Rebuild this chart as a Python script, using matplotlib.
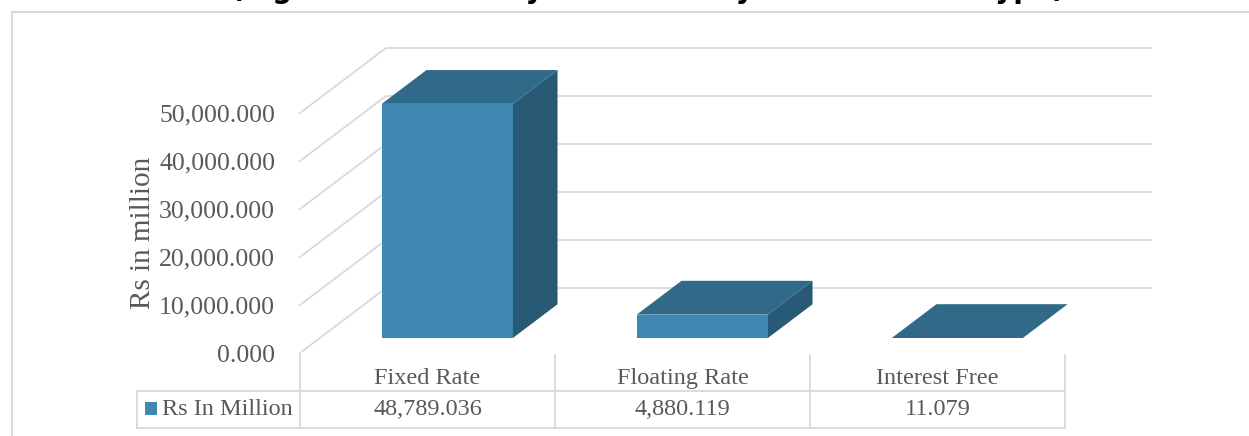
import matplotlib
matplotlib.use('Agg')
import matplotlib.pyplot as plt
from matplotlib.patches import Polygon, Rectangle
from matplotlib.lines import Line2D
from matplotlib.transforms import IdentityTransform, blended_transform_factory

# 数据
categories = ['Fixed Rate', 'Floating Rate', 'Interest Free']
values = [48789.036, 4880.119, 11.079]
value_labels = ['48,789.036', '4,880.119', '11.079']
series_name = 'Rs In Million'
yticks = [0, 10000, 20000, 30000, 40000, 50000]

# 颜色
c_front = '#3F88B1'
c_top = '#306A88'
c_side = '#285A75'
c_grid = '#D9D9D9'
c_text = '#595959'

W, H = 1249, 436
fig = plt.figure(figsize=(W / 100, H / 100), dpi=100)

# 前平面坐标轴 (x: 类别, y: 数值)
ax = fig.add_axes([300 / W, 83 / H, 765 / W, 240 / H])
ax.set_xlim(-0.5, 2.5)
ax.set_ylim(0, 50000)
for s in ax.spines.values():
    s.set_visible(False)
ax.set_xticks([])
ax.set_yticks(yticks)
ax.set_yticklabels([f'{t:,.3f}' for t in yticks], fontsize=18.5,
                   family='Liberation Serif', color=c_text)
ax.tick_params(axis='y', length=0, pad=18)
ax.set_ylabel('Rs in million', fontsize=21, family='Liberation Serif',
              color=c_text, labelpad=2)
ax.patch.set_visible(False)

DX, DY = 86, 65          # 墙的深度偏移 (像素)
d_front, d_back = 0.23, 0.75
bar_w = 0.514


def pt(x, v, depth):
    X, Y = ax.transData.transform((x, v))
    return (X + DX * depth, Y + DY * depth)


ident = IdentityTransform()

# 网格线 (侧墙 + 后墙)
for t in yticks:
    p0, p1, p2 = pt(-0.5, t, 0), pt(-0.5, t, 1), pt(2.5, t, 1)
    fig.add_artist(Line2D([p0[0], p1[0], p2[0]], [p0[1], p1[1], p2[1]],
                          color=c_grid, lw=1.3, transform=ident, zorder=1))

# 3D 柱
for i, v in enumerate(values):
    x0, x1 = i - bar_w / 2, i + bar_w / 2
    side = [pt(x1, 0, d_front), pt(x1, 0, d_back), pt(x1, v, d_back), pt(x1, v, d_front)]
    top = [pt(x0, v, d_front), pt(x1, v, d_front), pt(x1, v, d_back), pt(x0, v, d_back)]
    front = [pt(x0, 0, d_front), pt(x1, 0, d_front), pt(x1, v, d_front), pt(x0, v, d_front)]
    fig.add_artist(Polygon(side, closed=True, fc=c_side, ec='none', transform=ident, zorder=3))
    fig.add_artist(Polygon(top, closed=True, fc=c_top, ec='none', transform=ident, zorder=3))
    fig.add_artist(Polygon(front, closed=True, fc=c_front, ec='none', transform=ident, zorder=4))

# 数据表
bt = blended_transform_factory(ax.transData, fig.transFigure)
y_top, y_mid, y_bot = 1 - 355 / H, 1 - 391 / H, 1 - 428 / H
for k in range(4):
    fig.add_artist(Line2D([k - 0.5, k - 0.5], [y_top, y_bot], color=c_grid,
                          lw=1.3, transform=bt))
x_left = 137 / W
fig.add_artist(Line2D([x_left, 1065 / W], [y_mid, y_mid], color=c_grid, lw=1.3))
fig.add_artist(Line2D([x_left, 1065 / W], [y_bot, y_bot], color=c_grid, lw=1.3))
fig.add_artist(Line2D([x_left, x_left], [y_mid, y_bot], color=c_grid, lw=1.3))

for i, (cat, lab) in enumerate(zip(categories, value_labels)):
    fig.text(i, 1 - 378 / H, cat, transform=bt, ha='center', va='center',
             fontsize=17.5, family='Liberation Serif', color=c_text)
    fig.text(i, 1 - 409 / H, lab, transform=bt, ha='center', va='center',
             fontsize=17.5, family='Liberation Serif', color=c_text)

fig.add_artist(Rectangle((145 / W, 1 - 415 / H), 12 / W, 13 / H, fc=c_front, ec='none'))
fig.text(162 / W, 1 - 409 / H, series_name, ha='left', va='center',
         fontsize=17.5, family='Liberation Serif', color=c_text)

# 外框
fig.add_artist(Line2D([12 / W, 1], [1 - 12 / H, 1 - 12 / H], color=c_grid, lw=1.5))
fig.add_artist(Line2D([12 / W, 12 / W], [0, 1 - 12 / H], color=c_grid, lw=1.5))

# 标题 (原图上半部被裁掉)
fig.text(0.519, 1 + 2 / H, '(Figure 5: Monetary Liabilities by Interest Rate Type)',
         ha='center', va='baseline', fontsize=20, fontweight='bold', color='black')

fig.savefig('out.png', dpi=100)
